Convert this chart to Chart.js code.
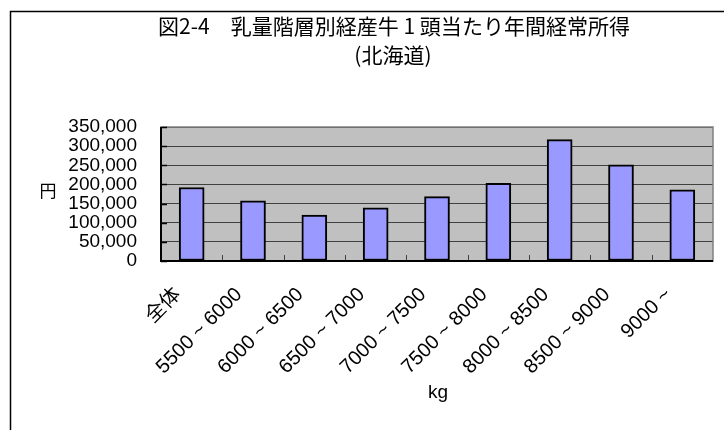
<!DOCTYPE html>
<html><head><meta charset="utf-8">
<script src="https://cdn.jsdelivr.net/npm/chart.js@4"></script>
<style>html,body{margin:0;padding:0;background:#fff}canvas{display:block}</style>
</head><body>
<canvas id="c" width="724" height="430"></canvas>
<script>
const titleLines = ['図2-4　乳量階層別経産牛 1 頭当たり年間経常所得', '(北海道)'];
const categories = ['全体', '5500 ~ 6000', '6000 ~ 6500', '6500 ~ 7000', '7000 ~ 7500', '7500 ~ 8000', '8000 ~ 8500', '8500 ~ 9000', '9000 ~'];
const incomeValues = [192000, 157000, 120000, 139000, 168000, 203000, 317000, 251000, 186000];
const yMin = 0, yMax = 350000, yStep = 50000;
const yAxisTitle = '円';
const xAxisTitle = 'kg';

const FONT = "'Liberation Sans', 'Noto Sans CJK JP', sans-serif";
const JFONT = "'Noto Sans CJK JP', sans-serif";

const decor = {
  id: 'decor',
  beforeDraw(chart) {
    const ctx = chart.ctx, a = chart.chartArea;
    ctx.save();
    ctx.fillStyle = '#fff';
    ctx.fillRect(0, 0, chart.width, chart.height);
    ctx.strokeStyle = '#000';
    ctx.lineWidth = 1.5;
    ctx.strokeRect(10.5, 11.5, 900, 900);
    ctx.fillStyle = '#c0c0c0';
    ctx.fillRect(a.left, a.top, a.right - a.left, a.bottom - a.top);
    ctx.restore();
  },
  afterDatasetsDraw(chart) {
    const ctx = chart.ctx, a = chart.chartArea;
    const ys = chart.scales.y, xs = chart.scales.x;
    ctx.save();
    ctx.strokeStyle = '#808080';
    ctx.lineWidth = 1.5;
    ctx.strokeRect(a.left, a.top, a.right - a.left, a.bottom - a.top);
    ctx.strokeStyle = '#000';
    ctx.lineWidth = 1.5;
    ys.ticks.forEach(t => {
      const y = Math.round(ys.getPixelForValue(t.value)) + 0.5;
      ctx.beginPath(); ctx.moveTo(a.left, y); ctx.lineTo(a.left + 6, y); ctx.stroke();
    });
    ctx.strokeStyle = '#404040';
    ctx.lineWidth = 1;
    for (let i = 1; i < categories.length; i++) {
      const x = Math.round((xs.getPixelForValue(i - 1) + xs.getPixelForValue(i)) / 2) + 0.5;
      ctx.beginPath(); ctx.moveTo(x, a.bottom); ctx.lineTo(x, a.bottom - 6); ctx.stroke();
    }
    ctx.strokeStyle = '#000';
    ctx.lineWidth = 2;
    ctx.beginPath(); ctx.moveTo(a.left, a.top); ctx.lineTo(a.left, a.bottom); ctx.lineTo(a.right, a.bottom); ctx.stroke();
    ctx.restore();
  },
  afterDraw(chart) {
    const ctx = chart.ctx;
    ctx.save();
    ctx.setTransform(1, 0, 0, 1, 0, 0);
    ctx.fillStyle = '#000';
    ctx.textAlign = 'center';
    ctx.textBaseline = 'middle';
    ctx.font = '21px ' + JFONT;
    const w = ctx.measureText(titleLines[0]).width;
    const fs = 21 * 472 / w;
    ctx.font = fs.toFixed(2) + 'px ' + JFONT;
    ctx.fillText(titleLines[0], 394, 26);
    ctx.fillText(titleLines[1], 393, 55);
    ctx.font = '17px ' + JFONT;
    ctx.fillText(yAxisTitle, 48, 191);
    ctx.font = '19px ' + FONT;
    ctx.fillText(xAxisTitle, 438, 393);
    ctx.restore();
  }
};

new Chart(document.getElementById('c'), {
  type: 'bar',
  data: {
    labels: categories,
    datasets: [{
      data: incomeValues,
      backgroundColor: '#9999ff',
      borderColor: '#000',
      borderWidth: 2,
      borderSkipped: false,
      barThickness: 25
    }]
  },
  options: {
    responsive: false,
    animation: false,
    devicePixelRatio: 1,
    layout: { padding: { top: 127, right: 11, left: 0, bottom: 0 } },
    plugins: { legend: { display: false }, title: { display: false }, tooltip: { enabled: false } },
    scales: {
      x: {
        afterFit(s) { s.height = 169; },
        grid: { display: false, drawTicks: false },
        border: { display: false },
        ticks: {
          autoSkip: false, maxRotation: 45, minRotation: 45,
          color: '#000', padding: 22, labelOffset: -14,
          font: { family: FONT, size: 20 }
        }
      },
      y: {
        min: yMin, max: yMax,
        afterFit(s) { s.width = 161; },
        grid: { color: '#404040', lineWidth: 1, drawTicks: false },
        border: { display: false },
        ticks: {
          stepSize: yStep, autoSkip: false, color: '#000', padding: 24,
          font: { family: FONT, size: 19 },
          callback: v => v.toLocaleString('en-US')
        }
      }
    }
  },
  plugins: [decor]
});
</script>
</body></html>
